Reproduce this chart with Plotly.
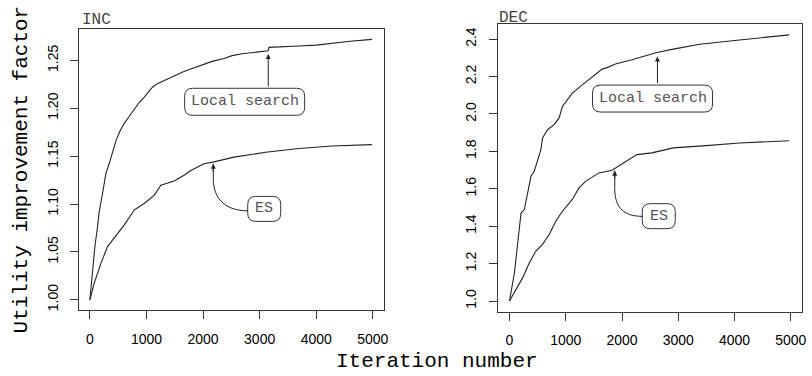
import plotly.graph_objects as go

# ---------------- data ----------------
inc_ls_x = [0, 40, 85, 134, 164, 223, 282, 340, 399, 459, 530, 605, 700, 782, 870, 958, 1030, 1105,
            1200, 1311, 1400, 1488, 1640, 1782, 1930, 2075, 2160, 2370, 2513, 2690, 2990, 3150, 3165,
            3400, 3694, 4000, 4280, 4600, 4985]
inc_ls_y = [1.000, 1.030, 1.054, 1.076, 1.092, 1.111, 1.132, 1.142, 1.153, 1.166, 1.176, 1.184, 1.192,
            1.199, 1.206, 1.2115, 1.217, 1.222, 1.226, 1.229, 1.231, 1.234, 1.238, 1.241, 1.244, 1.247,
            1.249, 1.252, 1.255, 1.257, 1.259, 1.260, 1.2636, 1.264, 1.265, 1.266, 1.268, 1.270, 1.272]

inc_es_x = [0, 76, 194, 311, 488, 605, 782, 958, 1135, 1253, 1488, 1664, 1782, 2017, 2194, 2547,
            3106, 3694, 4280, 4985]
inc_es_y = [1.000, 1.0173, 1.038, 1.0555, 1.069, 1.078, 1.0937, 1.1006, 1.109, 1.1197, 1.124, 1.130,
            1.135, 1.142, 1.144, 1.149, 1.154, 1.158, 1.1606, 1.162]

dec_ls_x = [0, 88, 146, 205, 264, 323, 382, 441, 500, 558, 588, 676, 794, 882, 941, 1029, 1117, 1294,
            1470, 1647, 1735, 1882, 2176, 2471, 2620, 2912, 3382, 4088, 4970]
dec_ls_y = [1.000, 1.151, 1.310, 1.470, 1.489, 1.578, 1.667, 1.694, 1.756, 1.810, 1.872, 1.916, 1.943,
            1.979, 2.040, 2.076, 2.112, 2.156, 2.200, 2.240, 2.248, 2.267, 2.290, 2.316, 2.329, 2.347,
            2.373, 2.396, 2.423]

dec_es_x = [0, 117, 235, 353, 470, 588, 706, 823, 941, 1117, 1235, 1353, 1588, 1823, 2030, 2264, 2529,
            2912, 3500, 4088, 4970]
dec_es_y = [1.000, 1.062, 1.125, 1.205, 1.267, 1.303, 1.356, 1.427, 1.480, 1.543, 1.605, 1.640, 1.685,
            1.699, 1.738, 1.783, 1.792, 1.819, 1.831, 1.845, 1.857]

panel_titles = ["INC", "DEC"]
series_names = ["Local search", "ES"]
x_ticks = [0, 1000, 2000, 3000, 4000, 5000]
inc_y_ticks = [1.00, 1.05, 1.10, 1.15, 1.20, 1.25]
dec_y_ticks = [1.0, 1.2, 1.4, 1.6, 1.8, 2.0, 2.2, 2.4]

# ---------------- layout constants ----------------
W, H = 812, 376
MONO = "Liberation Mono, Courier New, monospace"
SANS = "Liberation Sans, Arial, sans-serif"
LINE = "#222222"
BOX = "#333333"
TXT = "#555555"

def px_x(p):
    return p / W

def px_y(p):
    return 1 - p / H

fig = go.Figure()

for xs, ys, ax in [(inc_ls_x, inc_ls_y, 1), (inc_es_x, inc_es_y, 1),
                   (dec_ls_x, dec_ls_y, 2), (dec_es_x, dec_es_y, 2)]:
    fig.add_trace(go.Scatter(x=xs, y=ys, mode="lines", line=dict(color=LINE, width=1.1),
                             xaxis="x" if ax == 1 else "x2", yaxis="y" if ax == 1 else "y2",
                             showlegend=False, hoverinfo="skip"))

common_axis = dict(showline=True, mirror=True, linecolor=BOX, linewidth=1, ticks="outside",
                   ticklen=8, tickcolor=BOX, tickwidth=1, showgrid=False, zeroline=False)

fig.update_layout(
    width=W, height=H, margin=dict(l=0, r=0, t=0, b=0),
    paper_bgcolor="white", plot_bgcolor="white", showlegend=False,
    xaxis=dict(domain=[px_x(79), px_x(386)], range=[-200, 5200], tickvals=x_ticks,
               tickfont=dict(family=SANS, size=14, color="black"), anchor="y",
               ticklabelstandoff=8, **common_axis),
    yaxis=dict(domain=[px_y(311), px_y(29)], range=[0.9891, 1.2829], tickvals=inc_y_ticks,
               tickformat=".2f", tickangle=-90, anchor="x",
               tickfont=dict(family=SANS, size=14, color="black"), ticklabelstandoff=6,
               **common_axis),
    xaxis2=dict(domain=[px_x(500.7), px_x(806)], range=[-200, 5200], tickvals=x_ticks,
                tickfont=dict(family=SANS, size=14, color="black"), anchor="y2",
                ticklabelstandoff=8, **common_axis),
    yaxis2=dict(domain=[px_y(312.5), px_y(24.3)], range=[0.943, 2.480], tickvals=dec_y_ticks,
                tickformat=".1f", tickangle=-90, anchor="x2",
                tickfont=dict(family=SANS, size=14, color="black"), ticklabelstandoff=8,
                **common_axis),
)

# ---------------- panel titles & axis titles ----------------
fig.add_annotation(text=panel_titles[0], xref="paper", yref="paper", x=px_x(80), y=px_y(20.5),
                   xanchor="left", yanchor="middle", showarrow=False,
                   font=dict(family=MONO, size=16, color="#444444"))
fig.add_annotation(text=panel_titles[1], xref="paper", yref="paper", x=px_x(499), y=px_y(18.5),
                   xanchor="left", yanchor="middle", showarrow=False,
                   font=dict(family=MONO, size=16, color="#444444"))
fig.add_annotation(text="Utility improvement factor", xref="paper", yref="paper",
                   x=px_x(22), y=px_y(170), textangle=-90, showarrow=False,
                   xanchor="center", yanchor="middle",
                   font=dict(family=MONO, size=21, color="black"))
fig.add_annotation(text="Iteration number", xref="paper", yref="paper",
                   x=px_x(439), y=px_y(362), showarrow=False, xanchor="center", yanchor="middle",
                   font=dict(family=MONO, size=21, color="black"))

# ---------------- labelled boxes and arrows ----------------
def rounded_box(w, h, r):
    a, b = w / 2, h / 2
    return (f"M {-a + r},{-b} L {a - r},{-b} Q {a},{-b} {a},{-b + r} L {a},{b - r} "
            f"Q {a},{b} {a - r},{b} L {-a + r},{b} Q {-a},{b} {-a},{b - r} "
            f"L {-a},{-b + r} Q {-a},{-b} {-a + r},{-b} Z")

boxes = [  # (xref, yref, cx, cy, w, h, label)
    ("x", "y", 2735, 1.2068, 120, 27, series_names[0]),
    ("x", "y", 3081, 1.0949, 33, 25, series_names[1]),
    ("x2", "y2", 2543, 2.0827, 120, 27, series_names[0]),
    ("x2", "y2", 2653, 1.4536, 33, 25, series_names[1]),
]
for xr, yr, cx, cy, w, h, lab in boxes:
    fig.add_shape(type="path", xref=xr, yref=yr, xsizemode="pixel", ysizemode="pixel",
                  xanchor=cx, yanchor=cy, path=rounded_box(w, h, 8),
                  line=dict(color=BOX, width=1), fillcolor="white", layer="above")
    fig.add_annotation(text=lab, xref=xr, yref=yr, x=cx, y=cy, showarrow=False,
                       xanchor="center", yanchor="middle",
                       font=dict(family=MONO, size=15, color=TXT))

# straight arrows (Local search)
for xr, yr, tx, ty, length in [("x", "y", 3152, 1.2567, 34), ("x2", "y2", 2630, 2.307, 28)]:
    fig.add_annotation(text="", xref=xr, yref=yr, x=tx, y=ty, ax=0, ay=length,
                       showarrow=True, arrowhead=2, arrowsize=1, arrowwidth=1, arrowcolor=LINE)

# curved arrows (ES)
curves = [
    ("x", "y", 2181, 1.142, "M 0,0 L 0,-15 C 0,-35 12,-47 34.7,-47"),
    ("x2", "y2", 1871, 1.697, "M 0,0 L 0,-18 C 0,-38 10,-45.7 28,-45.7"),
]
for xr, yr, tx, ty, path in curves:
    fig.add_shape(type="path", xref=xr, yref=yr, xsizemode="pixel", ysizemode="pixel",
                  xanchor=tx, yanchor=ty, path=path, line=dict(color=LINE, width=1))
    fig.add_annotation(text="", xref=xr, yref=yr, x=tx, y=ty, ax=0, ay=10,
                       showarrow=True, arrowhead=2, arrowsize=1, arrowwidth=1, arrowcolor=LINE)

fig.write_html("out.html", config={"displayModeBar": False},
               post_script="document.body.style.margin='0';document.body.style.padding='0';")
